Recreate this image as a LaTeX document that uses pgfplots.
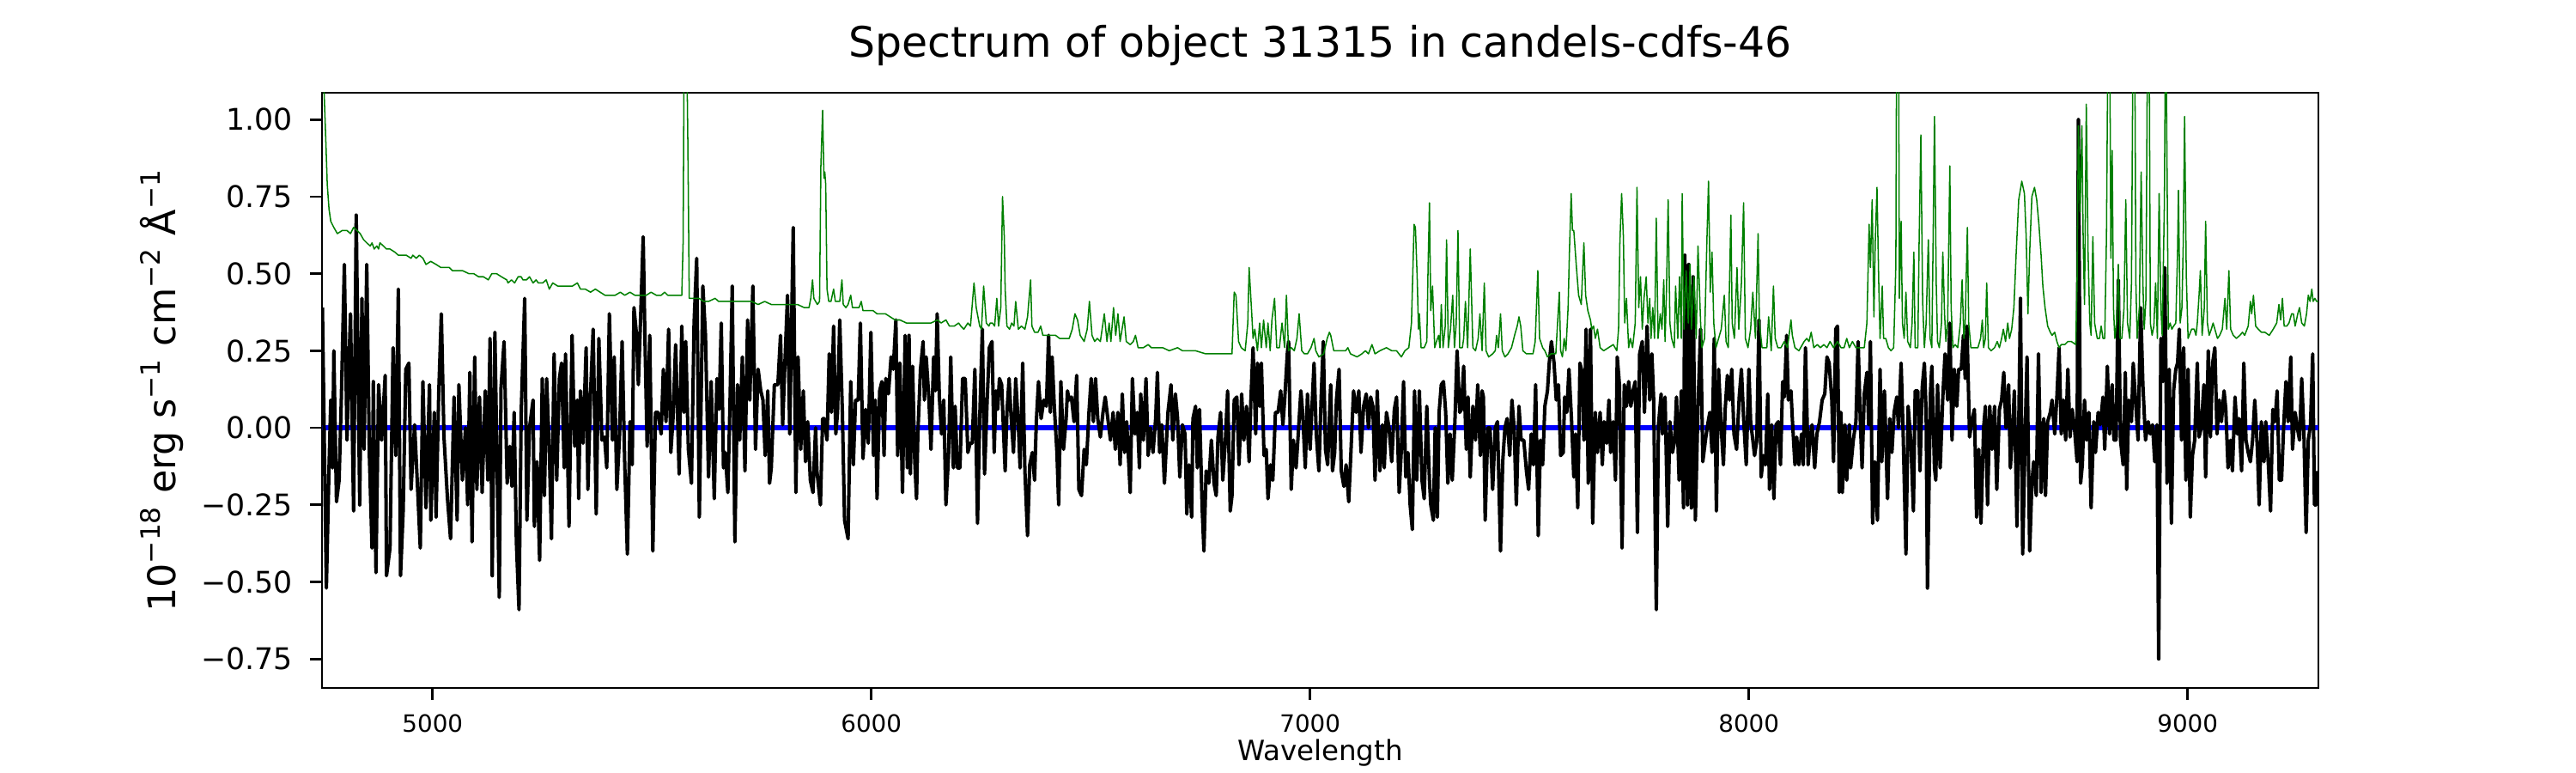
\documentclass[border=0pt]{standalone}
\usepackage{fontspec}
\setmainfont{DejaVu Sans}
\usepackage{pgfplots}
\pgfplotsset{compat=1.18}
\definecolor{mplgreen}{rgb}{0,0.5,0}
\begin{document}
\begin{tikzpicture}
\useasboundingbox (-135pt,-35.64pt) rectangle (945pt,288.36pt);
\begin{axis}[
  at={(0,0)}, anchor=south west,
  scale only axis, width=837pt, height=249.48pt,
  xmin=4748, xmax=9298, ymin=-0.844, ymax=1.087,
  xtick={5000,6000,7000,8000,9000},
  xticklabels={5000,6000,7000,8000,9000},
  ytick={-0.75,-0.5,-0.25,0,0.25,0.5,0.75,1},
  yticklabels={−0.75,−0.50,−0.25,0.00,0.25,0.50,0.75,1.00},
  tick align=outside, major tick length=5pt,
  tick style={line width=1pt, black},
  xtick pos=bottom, ytick pos=left,
  axis line style={line width=1pt},
  xticklabel style={font=\fontsize{10}{12}\selectfont, anchor=base, inner sep=0pt, yshift=-13.4pt},
  yticklabel style={font=\fontsize{12.5}{15}\selectfont, anchor=east, inner sep=0pt, xshift=-7.2pt},
  title={Spectrum of object 31315 in candels-cdfs-46},
  title style={at={(axis description cs:0.5,1)}, anchor=base, inner sep=0pt, yshift=9pt, font=\fontsize{17.6}{20}\selectfont},
  xlabel={Wavelength},
  xlabel style={at={(axis description cs:0.5,0)}, anchor=base, inner sep=0pt, yshift=-30.6pt, font=\fontsize{11.7}{14}\selectfont},
  ylabel={10\textsuperscript{−18} erg s\textsuperscript{−1} cm\textsuperscript{−2} Å\textsuperscript{−1}},
  ylabel style={at={(axis description cs:-0.0735,0.5)}, rotate=0, anchor=base, inner sep=0pt, font=\fontsize{16}{19}\selectfont},
]
% zero line
\addplot[blue, line width=2pt] coordinates {(4748,0) (9298,0)};
% flux
\addplot[black, line width=1.45pt, line join=round] coordinates {
(4749,0.39)(4758,-0.52)(4764,-0.13)(4768,0.09)(4772,-0.13)(4775,0.25)(4781,-0.24)(4787,-0.17)(4792,0.09)(4799,0.53)(4805,-0.04)(4809,0.19)(4813,0.37)(4820,-0.27)(4826,0.69)(4834,-0.25)(4839,0.42)(4844,-0.07)(4850,0.53)(4856,-0.09)(4862,-0.39)(4865,0.15)(4871,-0.47)(4877,0.14)(4884,-0.04)(4892,0.17)(4895,-0.48)(4903,-0.39)(4910,0.26)(4916,-0.09)(4922,0.45)(4927,-0.48)(4933,-0.27)(4939,0.19)(4946,0.21)(4951,-0.20)(4959,0.01)(4966,-0.20)(4972,-0.39)(4978,0.15)(4985,-0.26)(4993,0.14)(4996,-0.30)(5004,0.05)(5008,-0.29)(5014,0.11)(5020,0.37)(5026,-0.03)(5034,-0.23)(5041,-0.36)(5049,0.10)(5056,-0.30)(5060,0.14)(5068,-0.17)(5075,0.00)(5080,-0.25)(5085,0.18)(5090,-0.37)(5096,0.23)(5101,-0.20)(5107,0.10)(5113,-0.21)(5120,0.12)(5126,-0.17)(5131,0.29)(5136,-0.48)(5142,0.31)(5147,-0.12)(5152,-0.55)(5156,0.13)(5163,0.28)(5170,-0.18)(5176,-0.06)(5181,-0.19)(5186,0.05)(5191,-0.37)(5197,-0.59)(5202,0.05)(5210,0.42)(5215,-0.30)(5221,0.00)(5229,0.09)(5232,-0.32)(5238,-0.11)(5244,-0.43)(5250,0.16)(5255,-0.22)(5260,0.16)(5266,-0.07)(5271,-0.36)(5277,0.24)(5283,-0.17)(5289,0.16)(5294,0.21)(5300,-0.13)(5303,0.24)(5311,-0.32)(5318,0.30)(5324,-0.06)(5330,0.09)(5333,-0.23)(5337,0.12)(5343,-0.05)(5350,0.26)(5354,-0.20)(5360,0.11)(5366,0.32)(5373,-0.28)(5379,0.29)(5386,-0.04)(5392,-0.03)(5397,-0.13)(5403,0.37)(5410,-0.04)(5414,0.23)(5420,-0.20)(5426,-0.03)(5432,0.28)(5438,-0.12)(5444,-0.41)(5450,0.02)(5455,-0.12)(5459,0.39)(5465,0.30)(5469,0.14)(5474,0.35)(5480,0.62)(5484,0.29)(5489,-0.06)(5495,0.30)(5502,-0.40)(5508,0.05)(5514,0.05)(5521,-0.02)(5526,0.19)(5532,0.02)(5538,0.32)(5543,-0.08)(5548,0.03)(5554,0.27)(5562,-0.15)(5568,0.33)(5573,0.05)(5577,0.28)(5583,-0.07)(5590,-0.18)(5596,0.34)(5602,0.55)(5608,-0.29)(5616,0.46)(5622,0.30)(5629,-0.16)(5635,0.15)(5642,-0.23)(5648,0.16)(5653,0.06)(5658,0.34)(5663,-0.13)(5667,-0.08)(5673,-0.21)(5678,0.09)(5683,0.46)(5689,-0.37)(5695,0.14)(5700,-0.04)(5706,0.23)(5712,-0.14)(5718,0.35)(5723,0.09)(5730,0.46)(5736,-0.07)(5742,0.19)(5748,0.12)(5753,0.09)(5758,-0.09)(5764,0.12)(5768,-0.18)(5772,-0.13)(5779,0.14)(5787,0.14)(5793,0.30)(5798,0.01)(5803,0.21)(5809,0.43)(5814,-0.02)(5822,0.65)(5828,-0.21)(5833,0.23)(5839,-0.07)(5845,0.12)(5850,-0.11)(5855,0.02)(5861,-0.17)(5867,-0.21)(5873,0.00)(5876,-0.14)(5884,-0.25)(5889,0.03)
(5893,0.03)(5899,-0.04)(5904,0.24)(5909,0.05)(5914,0.33)(5919,-0.02)(5923,0.05)(5928,0.35)(5934,0.05)(5939,-0.30)(5947,-0.36)(5953,0.15)(5959,-0.12)(5964,0.09)(5970,0.09)(5975,0.34)(5981,-0.10)(5987,0.06)(5993,-0.05)(5999,0.31)(6005,-0.09)(6009,0.09)(6013,-0.23)(6019,0.12)(6024,0.15)(6029,-0.09)(6033,0.16)(6039,0.11)(6045,0.23)(6050,0.19)(6056,0.35)(6060,-0.09)(6065,0.21)(6071,-0.21)(6077,0.30)(6082,-0.13)(6086,0.30)(6089,-0.15)(6094,0.20)(6099,-0.11)(6103,-0.23)(6106,-0.02)(6112,0.19)(6118,0.28)(6121,0.09)(6125,0.23)(6131,0.10)(6136,-0.07)(6142,0.23)(6146,0.12)(6150,0.37)(6155,0.10)(6160,-0.02)(6165,0.09)(6170,-0.25)(6176,-0.09)(6181,0.23)(6187,-0.13)(6191,0.07)(6196,-0.13)(6202,-0.13)(6208,0.16)(6214,0.16)(6220,-0.08)(6225,-0.05)(6230,-0.05)(6236,0.19)(6242,-0.31)(6247,0.03)(6253,0.32)(6258,-0.15)(6264,0.09)(6269,0.26)(6275,0.28)(6280,-0.08)(6284,0.12)(6288,0.06)(6292,0.16)(6297,0.14)(6305,-0.14)(6309,0.05)(6314,0.16)(6318,0.05)(6324,-0.08)(6329,0.16)(6335,0.01)(6339,-0.13)(6345,0.21)(6350,-0.14)(6356,-0.35)(6361,-0.12)(6367,-0.08)(6372,-0.17)(6376,0.02)(6381,0.15)(6387,0.03)(6393,0.09)(6399,0.07)(6404,0.30)(6408,0.05)(6412,0.23)(6417,0.07)(6423,-0.08)(6427,-0.25)(6432,0.15)(6438,-0.07)(6444,0.03)(6447,0.12)(6451,0.09)(6456,0.10)(6462,0.02)(6468,0.17)(6473,-0.20)(6479,-0.22)(6485,-0.07)(6490,-0.12)(6496,0.05)(6501,0.16)(6506,0.02)(6511,0.16)(6516,0.03)(6522,-0.03)(6528,0.05)(6533,0.10)(6539,0.03)(6545,-0.04)(6551,0.05)(6556,-0.07)(6562,0.05)(6567,-0.12)(6572,0.11)(6577,-0.08)(6582,0.02)(6590,-0.21)(6595,0.16)(6601,-0.02)(6606,0.05)(6611,-0.13)(6614,0.11)(6620,-0.04)(6626,0.16)(6631,-0.09)(6636,0.00)(6642,-0.08)(6648,0.03)(6652,0.18)(6657,-0.08)(6662,0.01)(6668,-0.18)(6676,0.05)(6683,0.14)(6687,-0.04)(6693,0.11)(6698,0.03)(6703,-0.16)(6709,0.01)(6715,-0.02)(6719,-0.28)(6724,-0.12)(6730,-0.29)(6733,0.03)(6739,0.07)(6743,-0.13)(6748,0.06)(6754,-0.26)(6758,-0.40)(6763,-0.14)(6769,-0.18)(6775,-0.04)(6781,-0.18)(6786,-0.22)(6790,-0.03)(6796,0.05)(6801,-0.17)(6807,-0.04)(6812,0.12)(6818,-0.27)(6822,-0.22)(6827,0.09)(6833,0.10)(6838,-0.12)(6844,0.11)(6849,-0.04)(6855,0.07)(6861,-0.11)(6865,0.09)(6870,0.26)(6876,-0.02)(6880,0.21)(6885,0.07)(6889,0.21)(6895,-0.09)(6900,-0.07)(6904,-0.23)(6910,-0.12)(6915,-0.17)(6921,0.05)(6927,0.05)(6933,0.12)(6938,0.01)(6942,0.09)(6948,0.24)(6951,0.28)(6957,-0.20)(6962,-0.04)(6968,-0.13)(6973,-0.02)(6979,0.12)(6983,0.05)(6989,-0.13)(6994,0.11)(7000,-0.07)(7005,0.09)(7009,0.21)(7014,-0.02)(7020,-0.14)(7025,0.09)(7030,0.28)(7035,-0.07)(7040,-0.12)(7046,0.11)
(7047,0.14)(7051,-0.14)(7056,-0.08)(7060,0.09)(7066,0.19)(7071,-0.14)(7077,-0.19)(7082,-0.12)(7088,-0.24)(7093,-0.08)(7099,0.12)(7105,0.05)(7111,0.12)(7116,-0.08)(7122,0.07)(7128,0.11)(7133,0.00)(7138,0.10)(7143,0.07)(7148,-0.17)(7153,0.12)(7159,-0.14)(7165,0.01)(7169,-0.13)(7174,0.05)(7180,0.00)(7186,-0.11)(7192,0.06)(7197,0.10)(7203,-0.21)(7208,-0.07)(7213,0.15)(7218,-0.16)(7223,-0.08)(7228,-0.25)(7233,-0.33)(7238,0.12)(7243,-0.17)(7249,0.12)(7255,-0.17)(7260,-0.23)(7266,0.07)(7272,-0.17)(7275,-0.25)(7281,-0.30)(7285,0.00)(7290,-0.29)(7294,0.05)(7299,0.14)(7304,0.15)(7309,0.05)(7314,-0.18)(7319,-0.02)(7324,-0.17)(7330,0.02)(7335,0.25)(7341,0.05)(7345,0.06)(7350,0.20)(7356,-0.07)(7360,0.10)(7365,-0.16)(7371,0.07)(7377,-0.04)(7382,0.14)(7388,-0.09)(7392,0.12)(7395,0.10)(7399,-0.30)(7405,0.00)(7410,0.00)(7416,-0.20)(7422,0.00)(7427,0.02)(7434,-0.40)(7439,-0.11)(7444,0.00)(7449,0.03)(7455,-0.09)(7460,0.09)(7465,0.00)(7470,-0.25)(7476,0.07)(7481,-0.04)(7487,-0.04)(7493,-0.14)(7498,-0.20)(7504,-0.02)(7509,-0.12)(7514,0.14)(7520,-0.35)(7525,-0.04)(7530,-0.12)(7535,0.07)(7541,0.12)(7545,0.21)(7550,0.28)(7556,0.21)(7561,0.09)(7566,0.14)(7571,-0.09)(7577,-0.08)(7580,0.10)(7585,0.05)(7590,0.19)(7596,0.02)(7601,-0.16)(7605,-0.02)(7610,-0.26)(7615,0.21)(7620,0.18)(7624,-0.04)(7629,0.32)(7634,-0.18)(7639,0.32)(7644,-0.31)(7650,0.05)(7655,-0.08)(7661,0.05)(7666,-0.12)(7670,0.02)(7676,-0.05)(7681,0.09)(7685,-0.08)(7691,0.02)(7696,-0.17)(7700,0.23)(7705,0.14)(7711,-0.39)(7716,0.14)(7721,0.07)(7726,0.15)(7731,0.07)(7736,0.12)(7741,0.15)(7746,-0.34)(7751,0.24)(7757,0.28)(7762,0.05)(7768,0.33)(7774,0.09)(7779,0.24)(7783,0.09)(7789,-0.59)(7794,0.01)(7800,0.11)(7803,-0.02)(7809,0.10)(7815,-0.32)(7820,0.02)(7826,-0.08)(7831,-0.04)(7835,0.10)(7841,-0.17)(7846,0.12)(7851,-0.26)(7854,0.56)(7860,-0.25)(7863,0.53)(7869,-0.26)(7873,0.49)(7878,-0.30)(7884,0.07)(7890,0.32)(7895,-0.11)(7901,-0.04)(7906,0.01)(7911,0.05)(7916,-0.08)(7921,0.29)(7926,-0.27)(7931,0.19)(7937,0.00)(7942,-0.12)(7946,0.06)(7951,0.17)(7956,0.09)(7961,0.19)(7966,-0.02)(7972,-0.07)(7978,0.10)(7983,0.19)(7988,0.03)(7994,-0.12)(8000,0.19)(8004,0.02)(8009,-0.04)(8013,-0.09)(8018,-0.04)(8023,0.35)(8028,-0.16)(8033,-0.09)(8038,-0.12)(8043,0.11)(8047,-0.20)(8052,0.01)(8057,-0.23)(8062,0.01)(8067,0.02)(8072,-0.12)(8077,0.15)(8081,0.10)(8086,0.30)(8090,0.09)(8096,0.12)(8099,0.03)(8105,-0.12)(8109,-0.03)(8114,-0.12)(8120,-0.02)(8124,-0.12)(8129,0.26)(8135,-0.12)(8139,-0.04)(8144,0.01)(8150,-0.13)(8155,-0.02)(8161,0.02)(8167,0.09)(8173,0.11)(8178,0.23)(8183,0.21)(8189,0.09)(8193,-0.11)(8198,0.32)
(8202,0.33)(8206,-0.21)(8210,0.05)(8213,-0.21)(8219,0.01)(8223,-0.17)(8229,0.01)(8232,-0.13)(8238,-0.04)(8244,0.02)(8249,0.28)(8254,0.02)(8258,-0.13)(8263,0.11)(8269,0.18)(8273,0.01)(8277,0.28)(8282,-0.31)(8287,-0.11)(8293,-0.30)(8299,0.19)(8303,-0.11)(8309,0.12)(8316,-0.23)(8321,0.03)(8326,-0.08)(8331,0.05)(8337,0.10)(8341,0.00)(8347,0.21)(8352,-0.04)(8358,-0.41)(8363,0.07)(8369,-0.04)(8375,-0.27)(8379,0.12)(8385,0.12)(8390,-0.14)(8395,0.13)(8400,0.21)(8404,0.05)(8407,-0.52)(8414,0.12)(8417,0.20)(8423,-0.13)(8426,-0.17)(8430,0.14)(8436,-0.13)(8442,0.10)(8447,0.24)(8453,0.09)(8458,0.34)(8463,-0.04)(8468,0.19)(8474,0.07)(8478,0.19)(8484,0.19)(8489,0.30)(8493,0.16)(8497,0.33)(8503,-0.03)(8508,0.02)(8514,0.06)(8519,-0.29)(8524,-0.07)(8529,-0.31)(8535,0.00)(8539,0.07)(8544,-0.25)(8549,0.07)(8554,-0.07)(8560,0.07)(8565,-0.20)(8571,0.06)(8576,0.09)(8581,0.18)(8586,0.00)(8592,0.14)(8596,-0.13)(8602,0.02)(8605,0.12)(8611,-0.32)(8615,0.00)(8619,0.42)(8624,-0.41)(8630,0.00)(8634,0.23)(8640,-0.40)(8645,-0.18)(8649,-0.11)(8655,-0.22)(8660,0.24)(8666,-0.21)(8672,0.03)(8676,-0.22)(8681,0.02)(8687,0.05)(8691,0.09)(8697,-0.02)(8702,0.10)(8707,0.26)(8712,-0.02)(8717,0.09)(8722,-0.04)(8727,0.19)(8732,-0.03)(8737,0.06)(8742,0.00)(8748,-0.11)(8751,1.00)(8756,-0.18)(8760,-0.12)(8765,0.09)(8770,-0.04)(8775,0.05)(8780,-0.26)(8786,0.02)(8790,-0.08)(8796,0.05)(8801,0.01)(8807,0.10)(8811,-0.07)(8817,0.20)(8822,-0.02)(8828,0.14)(8832,-0.04)(8837,-0.04)(8842,0.48)(8847,-0.04)(8853,-0.12)(8858,0.18)(8861,-0.20)(8866,0.09)(8872,0.02)(8876,0.21)(8882,0.07)(8887,-0.04)(8893,0.39)(8898,0.14)(8904,-0.04)(8910,0.02)(8915,-0.02)(8920,0.01)(8925,-0.11)(8930,0.01)(8934,-0.75)(8939,0.29)(8944,0.15)(8948,0.52)(8953,-0.18)(8958,0.19)(8963,-0.31)(8968,0.12)(8973,0.19)(8977,0.21)(8981,0.32)(8986,-0.04)(8991,0.26)(8996,-0.17)(9001,0.19)(9006,-0.29)(9011,-0.09)(9016,-0.04)(9022,0.21)(9026,-0.03)(9031,0.00)(9037,0.14)(9041,-0.16)(9047,0.25)(9052,-0.03)(9057,0.21)(9062,0.26)(9067,-0.02)(9072,0.09)(9077,0.02)(9083,0.12)(9087,0.06)(9092,-0.13)(9098,-0.04)(9102,-0.14)(9108,0.10)(9113,-0.02)(9117,0.03)(9123,-0.14)(9128,0.21)(9133,-0.04)(9138,-0.08)(9143,-0.11)(9148,-0.04)(9153,0.09)(9159,-0.07)(9163,-0.25)(9168,0.02)(9174,-0.11)(9178,0.02)(9184,-0.12)(9189,-0.27)(9194,0.06)(9199,0.02)(9204,0.12)(9209,-0.17)(9214,-0.17)(9219,0.01)(9224,0.15)(9229,0.02)(9235,0.23)(9239,-0.07)(9245,0.05)(9250,0.00)(9255,-0.04)(9260,0.16)(9265,-0.02)(9270,-0.34)(9275,-0.04)(9280,0.01)(9285,0.24)(9289,-0.25)(9293,-0.25)(9296,-0.14)
};
% error / sky
\addplot[mplgreen, line width=0.55pt, line join=round] coordinates {
(4748,1.60)(4752,1.12)(4757,0.92)(4760,0.79)(4764,0.71)(4768,0.67)(4775,0.65)(4783,0.63)(4794,0.64)(4805,0.64)(4813,0.63)(4820,0.65)(4828,0.64)(4835,0.63)(4843,0.61)(4850,0.60)(4858,0.59)(4862,0.60)(4867,0.58)(4873,0.59)(4877,0.58)(4880,0.60)(4888,0.59)(4895,0.58)(4903,0.58)(4914,0.57)(4922,0.56)(4929,0.56)(4940,0.56)(4951,0.55)(4955,0.56)(4963,0.55)(4970,0.56)(4978,0.55)(4985,0.53)(4996,0.54)(5008,0.53)(5019,0.52)(5030,0.52)(5038,0.52)(5045,0.51)(5056,0.51)(5068,0.51)(5083,0.50)(5094,0.50)(5105,0.49)(5116,0.49)(5127,0.48)(5135,0.50)(5146,0.50)(5157,0.49)(5169,0.48)(5172,0.47)(5180,0.48)(5187,0.47)(5195,0.49)(5202,0.49)(5206,0.48)(5214,0.48)(5221,0.49)(5229,0.47)(5236,0.48)(5241,0.47)(5251,0.47)(5259,0.48)(5266,0.45)(5274,0.47)(5285,0.46)(5296,0.46)(5307,0.46)(5319,0.46)(5330,0.47)(5337,0.45)(5348,0.45)(5360,0.44)(5371,0.45)(5382,0.44)(5393,0.43)(5405,0.43)(5416,0.43)(5428,0.44)(5438,0.43)(5450,0.44)(5461,0.43)(5472,0.43)(5487,0.43)(5498,0.44)(5510,0.43)(5521,0.43)(5529,0.44)(5536,0.43)(5548,0.43)(5568,0.43)(5571,0.60)(5574,1.40)(5578,1.40)(5582,0.90)(5585,0.42)(5592,0.42)(5600,0.42)(5607,0.42)(5618,0.41)(5629,0.41)(5644,0.42)(5652,0.41)(5667,0.41)(5682,0.41)(5697,0.41)(5712,0.41)(5727,0.41)(5742,0.40)(5757,0.41)(5772,0.40)(5787,0.40)(5802,0.40)(5817,0.40)(5832,0.40)(5847,0.39)(5858,0.39)(5862,0.42)(5866,0.48)(5869,0.42)(5877,0.40)(5882,0.41)(5885,0.85)(5889,1.03)(5892,0.81)(5894,0.83)(5896,0.79)(5899,0.45)(5903,0.41)(5908,0.41)(5914,0.45)(5918,0.41)(5923,0.41)(5928,0.41)(5933,0.48)(5936,0.40)(5942,0.39)(5947,0.40)(5953,0.43)(5957,0.39)(5964,0.39)(5972,0.39)(5977,0.41)(5981,0.38)(5990,0.38)(6004,0.38)(6013,0.37)(6032,0.37)(6043,0.36)(6054,0.35)(6065,0.35)(6080,0.34)(6095,0.34)(6110,0.34)(6125,0.34)(6136,0.34)(6151,0.35)(6159,0.34)(6170,0.35)(6178,0.33)(6189,0.33)(6199,0.34)(6204,0.33)(6211,0.32)(6220,0.34)(6226,0.33)(6234,0.47)(6239,0.39)(6247,0.33)(6251,0.32)(6256,0.46)(6262,0.34)(6268,0.33)(6271,0.34)(6276,0.34)(6281,0.33)(6286,0.42)(6290,0.33)(6295,0.39)(6299,0.75)(6303,0.62)(6305,0.45)(6309,0.33)(6315,0.32)(6320,0.34)(6325,0.33)(6329,0.41)(6335,0.32)(6342,0.33)(6350,0.32)(6356,0.36)(6363,0.48)(6366,0.33)(6372,0.31)(6380,0.31)(6386,0.33)(6391,0.30)(6402,0.30)(6414,0.30)(6420,0.30)(6429,0.29)(6440,0.29)(6451,0.29)(6458,0.32)(6464,0.37)(6470,0.35)(6476,0.30)(6485,0.28)(6492,0.32)(6497,0.41)(6503,0.30)(6509,0.28)(6515,0.29)(6522,0.28)(6531,0.37)(6537,0.28)(6542,0.34)(6546,0.28)(6552,0.39)(6557,0.30)(6562,0.37)(6567,0.28)(6576,0.36)(6581,0.28)(6590,0.27)(6597,0.28)(6602,0.30)(6608,0.26)(6620,0.26)(6631,0.27)(6638,0.26)(6649,0.26)(6664,0.26)(6679,0.25)(6698,0.26)(6709,0.25)(6724,0.25)(6739,0.25)(6762,0.24)(6792,0.24)(6822,0.24)(6827,0.44)(6831,0.43)(6837,0.28)(6843,0.26)(6852,0.25)(6858,0.34)(6861,0.52)(6867,0.37)(6870,0.29)(6874,0.32)(6880,0.25)(6885,0.34)(6889,0.26)(6894,0.35)(6900,0.26)(6904,0.34)(6909,0.25)(6913,0.35)(6919,0.42)(6924,0.26)(6930,0.26)(6936,0.34)(6942,0.26)(6946,0.43)(6951,0.25)(6957,0.26)(6964,0.25)(6970,0.29)(6975,0.37)(6981,0.25)(6987,0.24)(6994,0.24)(7002,0.26)(7009,0.29)(7013,0.25)(7020,0.23)(7031,0.24)(7039,0.29)(7044,0.31)
(7047,0.30)(7054,0.25)(7069,0.25)(7081,0.25)(7086,0.26)(7092,0.24)(7107,0.23)(7118,0.24)(7126,0.25)(7133,0.24)(7141,0.27)(7148,0.24)(7159,0.25)(7174,0.26)(7186,0.25)(7197,0.25)(7208,0.23)(7216,0.25)(7225,0.26)(7231,0.34)(7237,0.66)(7240,0.65)(7244,0.49)(7247,0.32)(7249,0.37)(7253,0.26)(7260,0.26)(7266,0.28)(7269,0.53)(7272,0.73)(7275,0.38)(7279,0.46)(7284,0.26)(7288,0.28)(7293,0.30)(7296,0.26)(7299,0.40)(7303,0.26)(7308,0.33)(7311,0.61)(7315,0.26)(7320,0.32)(7325,0.43)(7329,0.26)(7333,0.34)(7337,0.64)(7341,0.26)(7347,0.26)(7350,0.29)(7354,0.41)(7359,0.26)(7365,0.58)(7371,0.26)(7377,0.25)(7383,0.29)(7387,0.37)(7392,0.25)(7397,0.47)(7401,0.25)(7407,0.23)(7416,0.24)(7422,0.25)(7425,0.30)(7429,0.26)(7434,0.37)(7438,0.25)(7444,0.23)(7451,0.24)(7459,0.26)(7466,0.30)(7472,0.33)(7476,0.36)(7480,0.33)(7485,0.25)(7493,0.24)(7500,0.24)(7508,0.24)(7513,0.28)(7519,0.51)(7523,0.29)(7530,0.26)(7535,0.25)(7541,0.23)(7549,0.24)(7560,0.24)(7564,0.34)(7568,0.44)(7571,0.25)(7575,0.23)(7579,0.29)(7583,0.25)(7588,0.39)(7591,0.57)(7595,0.76)(7598,0.64)(7601,0.64)(7607,0.52)(7612,0.43)(7618,0.40)(7624,0.60)(7628,0.43)(7633,0.38)(7639,0.35)(7642,0.32)(7646,0.33)(7650,0.29)(7655,0.32)(7661,0.26)(7669,0.25)(7680,0.26)(7691,0.27)(7699,0.25)(7703,0.32)(7706,0.60)(7710,0.76)(7714,0.62)(7717,0.34)(7721,0.42)(7726,0.26)(7730,0.29)(7735,0.26)(7741,0.34)(7745,0.78)(7749,0.39)(7753,0.49)(7757,0.32)(7761,0.42)(7766,0.49)(7770,0.34)(7774,0.42)(7777,0.29)(7781,0.39)(7785,0.29)(7789,0.68)(7793,0.29)(7798,0.37)(7802,0.32)(7806,0.48)(7809,0.28)(7812,0.43)(7816,0.74)(7820,0.34)(7824,0.29)(7830,0.26)(7833,0.46)(7838,0.29)(7842,0.49)(7846,0.29)(7848,0.76)(7852,0.32)(7857,0.51)(7862,0.34)(7866,0.53)(7869,0.32)(7875,0.49)(7880,0.29)(7884,0.59)(7890,0.34)(7893,0.26)(7899,0.29)(7904,0.59)(7908,0.80)(7912,0.44)(7916,0.57)(7920,0.34)(7925,0.26)(7931,0.29)(7937,0.32)(7944,0.43)(7948,0.28)(7953,0.26)(7959,0.69)(7962,0.34)(7967,0.29)(7973,0.52)(7977,0.32)(7983,0.47)(7988,0.73)(7992,0.29)(7998,0.26)(8004,0.32)(8009,0.44)(8015,0.29)(8021,0.63)(8024,0.34)(8030,0.26)(8036,0.26)(8041,0.26)(8045,0.36)(8051,0.25)(8056,0.46)(8060,0.29)(8066,0.26)(8073,0.26)(8081,0.28)(8088,0.26)(8096,0.35)(8099,0.30)(8105,0.26)(8114,0.25)(8126,0.28)(8132,0.29)(8137,0.28)(8142,0.31)(8148,0.26)(8156,0.27)(8163,0.26)(8171,0.27)(8178,0.26)(8185,0.28)(8193,0.26)
(8202,0.28)(8210,0.26)(8217,0.26)(8223,0.29)(8229,0.26)(8236,0.28)(8244,0.26)(8251,0.26)(8263,0.26)(8269,0.34)(8274,0.66)(8277,0.52)(8281,0.74)(8285,0.36)(8288,0.60)(8292,0.78)(8296,0.47)(8299,0.29)(8304,0.46)(8307,0.29)(8312,0.29)(8318,0.26)(8324,0.25)(8330,0.26)(8335,0.53)(8337,1.40)(8341,1.40)(8343,0.42)(8347,0.67)(8350,0.34)(8354,0.29)(8358,0.44)(8362,0.28)(8368,0.26)(8372,0.34)(8376,0.57)(8379,0.26)(8385,0.26)(8388,0.60)(8392,0.95)(8396,0.41)(8400,0.26)(8404,0.34)(8409,0.61)(8413,0.29)(8417,0.26)(8420,0.62)(8423,1.01)(8427,0.47)(8430,0.28)(8434,0.26)(8439,0.34)(8442,0.57)(8446,0.37)(8449,0.28)(8453,0.34)(8458,0.85)(8461,0.39)(8465,0.26)(8470,0.27)(8476,0.26)(8482,0.34)(8486,0.48)(8490,0.29)(8493,0.34)(8498,0.65)(8501,0.34)(8506,0.26)(8514,0.26)(8522,0.26)(8528,0.29)(8532,0.35)(8535,0.26)(8539,0.29)(8542,0.47)(8546,0.26)(8552,0.25)(8560,0.26)(8566,0.28)(8571,0.26)(8576,0.29)(8580,0.32)(8585,0.28)(8590,0.34)(8594,0.29)(8599,0.32)(8604,0.39)(8609,0.56)(8615,0.74)(8622,0.80)(8628,0.76)(8632,0.62)(8636,0.37)(8640,0.57)(8645,0.75)(8651,0.78)(8656,0.74)(8661,0.66)(8666,0.56)(8670,0.46)(8675,0.39)(8681,0.33)(8687,0.31)(8691,0.30)(8697,0.31)(8702,0.28)(8707,0.26)(8712,0.27)(8720,0.27)(8727,0.28)(8735,0.28)(8745,0.27)(8748,0.47)(8751,0.98)(8755,0.70)(8759,0.98)(8762,0.60)(8765,0.40)(8769,1.05)(8773,0.57)(8777,0.34)(8780,0.30)(8784,0.62)(8788,0.34)(8794,0.29)(8799,0.29)(8803,0.33)(8807,0.29)(8811,0.29)(8815,0.62)(8819,1.40)(8822,1.40)(8825,0.55)(8828,0.90)(8831,0.39)(8834,0.29)(8838,0.34)(8842,0.53)(8846,0.29)(8850,0.29)(8855,0.39)(8859,0.74)(8863,0.34)(8868,0.29)(8872,0.47)(8876,1.40)(8879,1.40)(8882,0.47)(8885,0.29)(8890,0.39)(8894,0.83)(8898,0.47)(8901,0.32)(8905,0.42)(8909,1.40)(8912,1.40)(8915,0.34)(8919,0.30)(8923,0.33)(8927,0.47)(8931,0.29)(8935,0.76)(8939,0.39)(8942,0.30)(8947,0.73)(8950,1.40)(8953,0.85)(8956,0.32)(8960,0.34)(8964,0.32)(8968,0.33)(8973,0.34)(8977,0.57)(8979,0.77)(8983,0.34)(8987,0.39)(8990,0.60)(8993,1.01)(8997,0.49)(9001,0.29)(9009,0.32)(9015,0.32)(9019,0.30)(9022,0.34)(9026,0.43)(9029,0.51)(9033,0.30)(9038,0.39)(9041,0.67)(9045,0.34)(9049,0.30)(9054,0.32)(9058,0.34)(9062,0.32)(9068,0.29)(9073,0.30)(9079,0.32)(9085,0.42)(9089,0.32)(9094,0.51)(9098,0.32)(9104,0.30)(9111,0.29)(9119,0.30)(9125,0.31)(9130,0.30)(9138,0.33)(9143,0.41)(9146,0.37)(9150,0.43)(9155,0.33)(9161,0.32)(9168,0.31)(9176,0.31)(9186,0.30)(9195,0.32)(9203,0.34)(9208,0.40)(9212,0.35)(9216,0.42)(9220,0.33)(9226,0.33)(9231,0.34)(9237,0.37)(9241,0.37)(9245,0.33)(9251,0.37)(9255,0.39)(9260,0.34)(9266,0.33)(9271,0.37)(9275,0.43)(9279,0.41)(9283,0.45)(9286,0.41)(9290,0.42)(9294,0.41)(9298,0.41)
};
\end{axis}
\end{tikzpicture}
\end{document}
